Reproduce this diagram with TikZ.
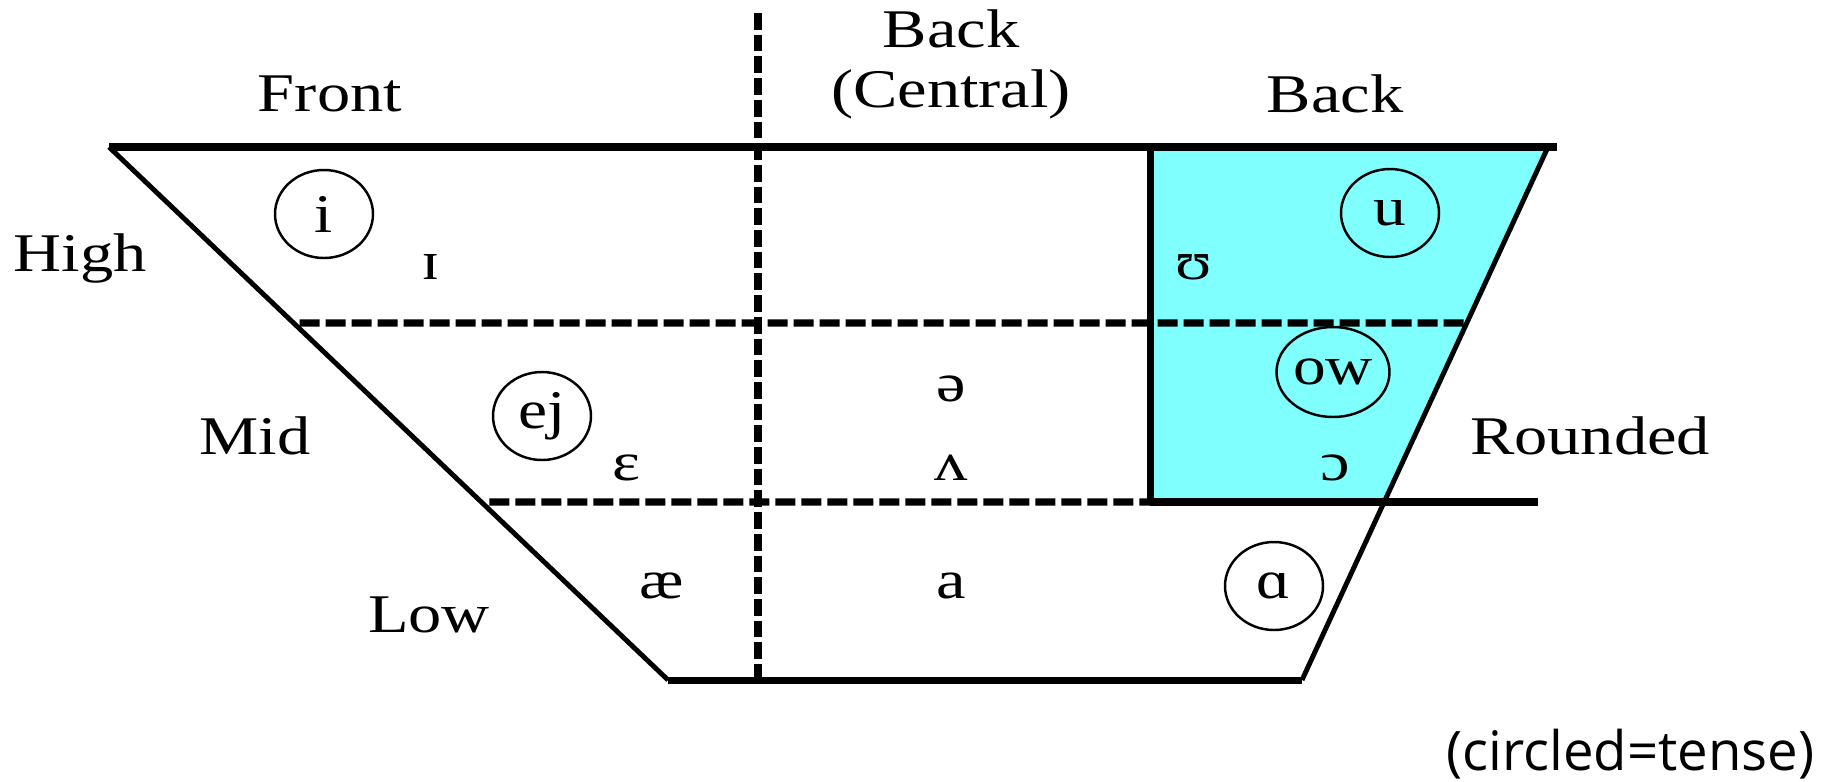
\documentclass[tikz,border=0pt]{standalone}
\usepackage{fontspec}
\setmainfont{Liberation Serif}
\newfontfamily\notefont{Open Sans}
\usepackage{graphicx}
\usepackage{tikz}
\usetikzlibrary{shapes,positioning,calc}
\definecolor{roundcyan}{RGB}{128,255,255}
\newcommand{\vowelwide}[1]{\scalebox{1.2}[1]{#1}}
\tikzset{
  chartline/.style={line width=2pt, black},
  chartedge/.style={line width=1.4pt, black},
  chartdash/.style={line width=2pt, dash pattern=on 0.2cm off 0.06cm},
  chartvdash/.style={line width=2pt, dash pattern=on 0.167cm off 0.05cm},
  axislabel/.style={
    font=\fontsize{15.5}{18}\selectfont, xscale=1.22, inner sep=0pt
  },
  vowelsym/.style={
    font=\fontsize{15.5}{18}\selectfont, xscale=1.22, inner sep=0pt
  },
  tensevowel/.style={
    ellipse, draw, line width=0.7pt, minimum width=0.98cm,
    minimum height=0.88cm, inner sep=0pt,
    font=\fontsize{15.5}{18}\selectfont
  },
  notelabel/.style={font=\notefont\fontsize{15.5}{18}\selectfont, inner sep=0pt}
}

\begin{document}
\begin{tikzpicture}
  \useasboundingbox (0,0) rectangle (18.36,7.81);

  % Corners of the chart
  \coordinate (tl) at (1.09,6.34);
  \coordinate (tr) at (15.48,6.34);
  \coordinate (trend) at (15.57,6.34);
  \coordinate (bl) at (6.68,1.01);
  \coordinate (br) at (13.02,1.01);
  \coordinate (vtop) at (7.58,7.68);
  \coordinate (vbot) at (7.58,1.01);
  \coordinate (rtop) at (11.50,6.34);
  \coordinate (rmid) at (11.50,2.79);
  \coordinate (lowend) at (15.38,2.79);
  \coordinate (hiL) at (intersection of tl--bl and {0,4.58}--{18,4.58});
  \coordinate (hiR) at (intersection of tr--br and {0,4.58}--{18,4.58});
  \coordinate (loL) at (intersection of tl--bl and {0,2.79}--{18,2.79});
  \coordinate (loR) at (intersection of tr--br and {0,2.79}--{18,2.79});

  % Rounded area
  \fill[roundcyan] (rtop) -- (tr) -- (loR) -- (rmid) -- cycle;

  % Outline
  \draw[chartline] (tl) -- (trend);
  \draw[chartline] (bl) -- (br);
  \draw[chartedge] (tl) -- (bl);
  \draw[chartedge] (tr) -- (br);
  \draw[chartline] (rtop) -- (rmid);

  % Dividers
  \draw[chartvdash] (vtop) -- (vbot);
  \draw[chartdash, shorten <=0.06cm] (hiL) -- (hiR);
  \draw[chartdash, shorten <=0.08cm] (loL) -- (rmid);
  \draw[chartline] (rmid) -- (lowend);

  % Column and row labels
  \node[axislabel] (front) at (3.30,6.87) {Front};
  \node[axislabel] (backc1) at (9.51,7.52) {Back};
  \node[axislabel] (backc2) at (9.51,6.87) {(Central)};
  \node[axislabel] (back) at (13.35,6.87) {Back};
  \node[axislabel] (high) at (0.80,5.23) {High};
  \node[axislabel] (mid) at (2.55,3.45) {Mid};
  \node[axislabel] (low) at (4.29,1.66) {Low};
  \node[axislabel] (rounded) at (15.90,3.45) {Rounded};

  % Vowels
  \node[tensevowel] (vi) at (3.24,5.67) {\vowelwide{i}};
  \node[vowelsym] (vI) at (4.31,5.14) {ɪ};
  \node[vowelsym] (vU) at (11.94,5.14) {ʊ};
  \node[tensevowel] (vu) at (13.90,5.68) {\vowelwide{u}};
  \node[vowelsym] (vschwa) at (9.51,3.92) {ə};
  \node[tensevowel, minimum width=0.94cm, minimum height=0.9cm] (vow) at (13.33,4.09) {\vowelwide{ow}};
  \node[tensevowel] (vej) at (5.42,3.65) {\vowelwide{ej}};
  \node[vowelsym] (veps) at (6.26,3.13) {ɛ};
  \node[vowelsym] (vwedge) at (9.51,3.13) {ʌ};
  \node[vowelsym] (vopen) at (13.35,3.13) {ɔ};
  \node[vowelsym] (vae) at (6.62,1.95) {æ};
  \node[vowelsym] (va) at (9.51,1.95) {a};
  \node[tensevowel] (vaa) at (12.74,1.95) {\vowelwide{ɑ}};

  % Note
  \node[notelabel, anchor=east] (note) at (18.15,0.27) {(circled=tense)};
\end{tikzpicture}
\end{document}
